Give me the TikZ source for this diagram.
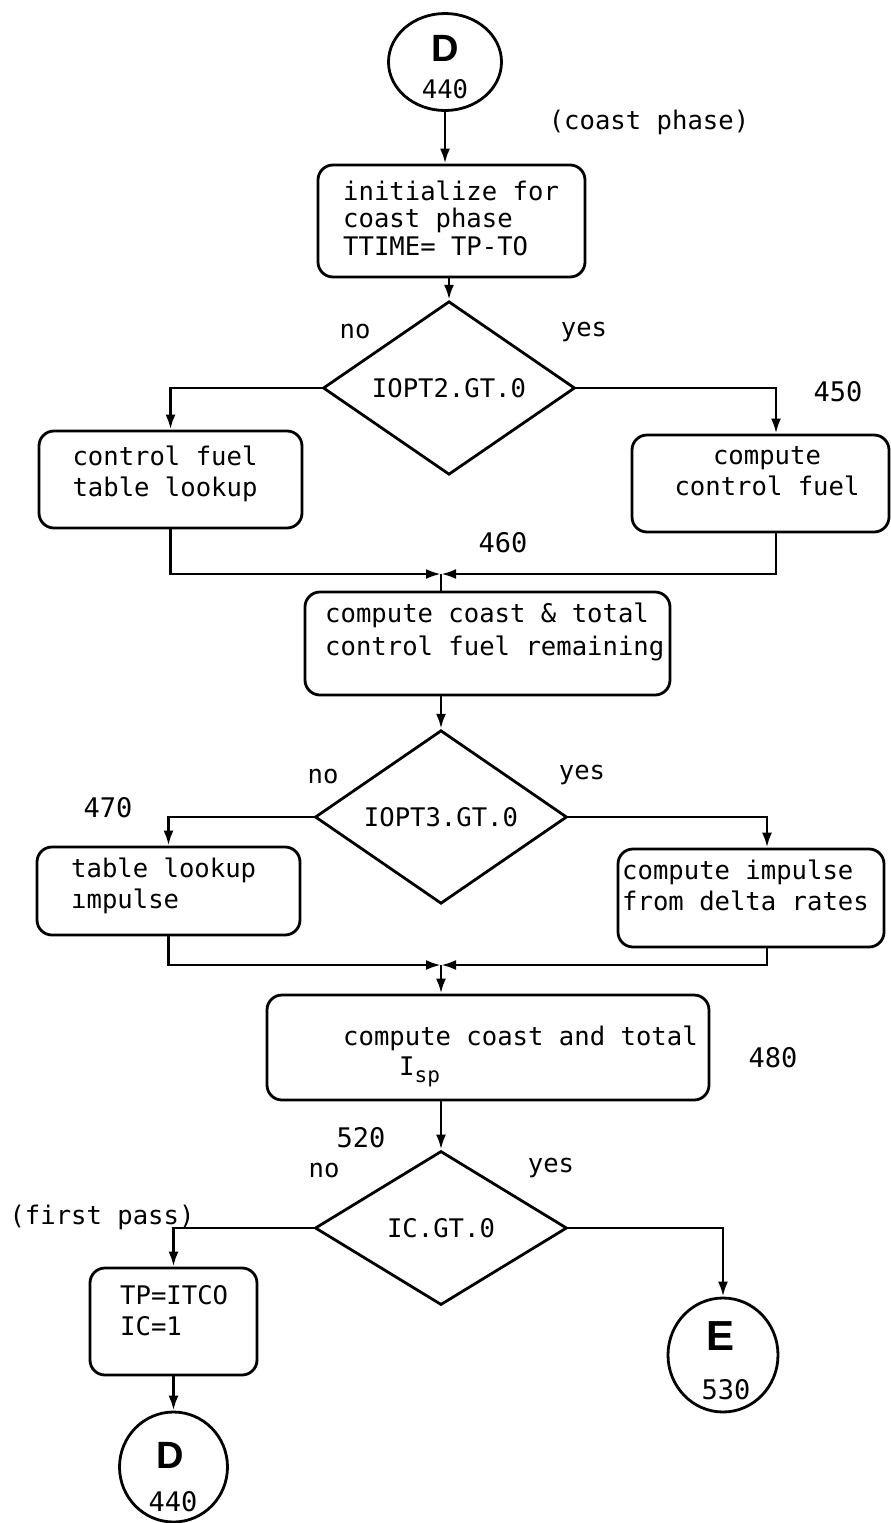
\documentclass[tikz,border=0pt]{standalone}
\usepackage{fontspec}
\setmainfont{DejaVu Sans Mono}
\newfontfamily\lsans{Liberation Sans}
\usetikzlibrary{shapes.geometric,arrows.meta}
\begin{document}
\begin{tikzpicture}[x=1pt,y=-1pt,
  every node/.style={inner sep=0pt, font=\fontsize{25.6}{31}\selectfont},
  box/.style={draw, line width=2.8pt, rounded corners=15pt, rectangle},
  dec/.style={draw, line width=2.8pt, diamond, minimum width=252pt, minimum height=154pt},
  conn/.style={draw, line width=2.8pt, ellipse},
  big/.style={font=\lsans\bfseries\fontsize{38}{38}\selectfont},
  num/.style={font=\fontsize{27}{31}\selectfont},
  line/.style={line width=2.8pt},
  arr/.style={line width=2.8pt, -{Latex[length=15pt,width=10pt]}},
]
\fill[white] (0,0) rectangle (891,1523);
\useasboundingbox (0,0) rectangle (891,1523);

% top connector D
\node[conn, minimum width=113pt, minimum height=97pt] (d1) at (445,62) {};
\node[big] (d1l) at (445,48) {D};
\node (d1n) at (445,89) {440};
\node (coast) at (649,122) {(coast phase)};

% initialize box
\node[box, minimum width=267pt, minimum height=112pt] (b0) at (451.5,221) {};
\node[align=left, anchor=west, font=\fontsize{25.6}{27.5}\selectfont] (b0t) at (343,218) {initialize for\\coast phase\\TTIME= TP-TO};

% decision 1
\node[dec] (q1) at (449,388) {IOPT2.GT.0};
\node (no1) at (355,332) {no};
\node (yes1) at (584,332) {yes};
\node[num] (n450) at (838,392) {450};

\node[box, minimum width=263pt, minimum height=97pt] (b1l) at (170.5,479.5) {};
\node[align=center] (b1lt) at (165,474) {control fuel\\table lookup};
\node[box, minimum width=257pt, minimum height=97pt] (b1r) at (760.5,483.5) {};
\node[align=center] (b1rt) at (767,471) {compute\\control fuel};

\node[num] (n460) at (503,543) {460};
\coordinate (m1) at (441,574);

% box 2
\node[box, minimum width=365pt, minimum height=103pt] (b2) at (487.5,643.5) {};
\node[align=left, anchor=west, font=\fontsize{25.6}{33}\selectfont] (b2t) at (325,632) {compute coast \& total\\control fuel remaining};

% decision 2
\node[dec] (q2) at (441,817) {IOPT3.GT.0};
\node (no2) at (323,777) {no};
\node (yes2) at (582,775) {yes};
\node[num] (n470) at (108,808) {470};

\node[box, minimum width=263pt, minimum height=88pt] (b2l) at (168.5,891) {};
\node[align=left, anchor=west] (b2lt) at (71,886) {table lookup\\ımpulse};
\node[box, minimum width=266pt, minimum height=98pt] (b2r) at (751,898) {};
\node[align=left, anchor=west] (b2rt) at (622,885) {compute impulse\\from delta rates};

\coordinate (m2) at (441,965);

% box 3
\node[box, minimum width=442pt, minimum height=105pt] (b3) at (488,1047.5) {};
\node[anchor=west] (b3t) at (343,1038) {compute coast and total};
\node[anchor=west] (b3i) at (399,1072) {I\raisebox{-7pt}{\fontsize{21}{21}\selectfont sp}};
\node[num] (n480) at (773,1058) {480};

% decision 3
\node[num] (n520) at (361,1138) {520};
\node[dec] (q3) at (441,1228) {IC.GT.0};
\node (no3) at (324,1170) {no};
\node (yes3) at (551,1168) {yes};
\node (first) at (102,1217) {(first pass)};

\node[box, minimum width=167pt, minimum height=107pt] (b3l) at (173.5,1321.5) {};
\node[align=left, anchor=west] (b3lt) at (120,1311) {TP=ITCO\\IC=1};

% bottom connector D
\node[conn, minimum width=108pt, minimum height=110pt] (d2) at (173.5,1467) {};
\node[big] (d2l) at (170,1455) {D};
\node[num] (d2n) at (173,1502) {440};

% connector E
\node[conn, minimum width=110pt, minimum height=114pt] (e1) at (723,1355) {};
\node[big, font=\lsans\bfseries\fontsize{42}{42}\selectfont] (e1l) at (720,1336) {E};
\node[num] (e1n) at (726,1390) {530};

% connectors
\draw[arr] (d1.south) -- (d1.south |- b0.north);
\draw[arr] (q1.north |- b0.south) -- (q1.north);
\draw[arr] (q1.west) -| (b1l.north);
\draw[arr] (q1.east) -| ([xshift=15.5pt]b1r.north);
\draw[arr] (b1l.south) |- (m1);
\draw[arr] ([xshift=15.5pt]b1r.south) |- (m1);
\draw[line] (m1) -- (m1 |- b2.north);
\draw[arr] (q2.north |- b2.south) -- (q2.north);
\draw[arr] (q2.west) -| (b2l.north);
\draw[arr] (q2.east) -| ([xshift=16pt]b2r.north);
\draw[arr] (b2l.south) |- (m2);
\draw[arr] ([xshift=16pt]b2r.south) |- (m2);
\draw[arr] (m2) -- (m2 |- b3.north);
\draw[arr] (q3.north |- b3.south) -- (q3.north);
\draw[arr] (q3.west) -| (b3l.north);
\draw[arr] (q3.east) -| (e1.north);
\draw[arr] (b3l.south) -- (b3l.south |- d2.north);
\end{tikzpicture}
\end{document}
